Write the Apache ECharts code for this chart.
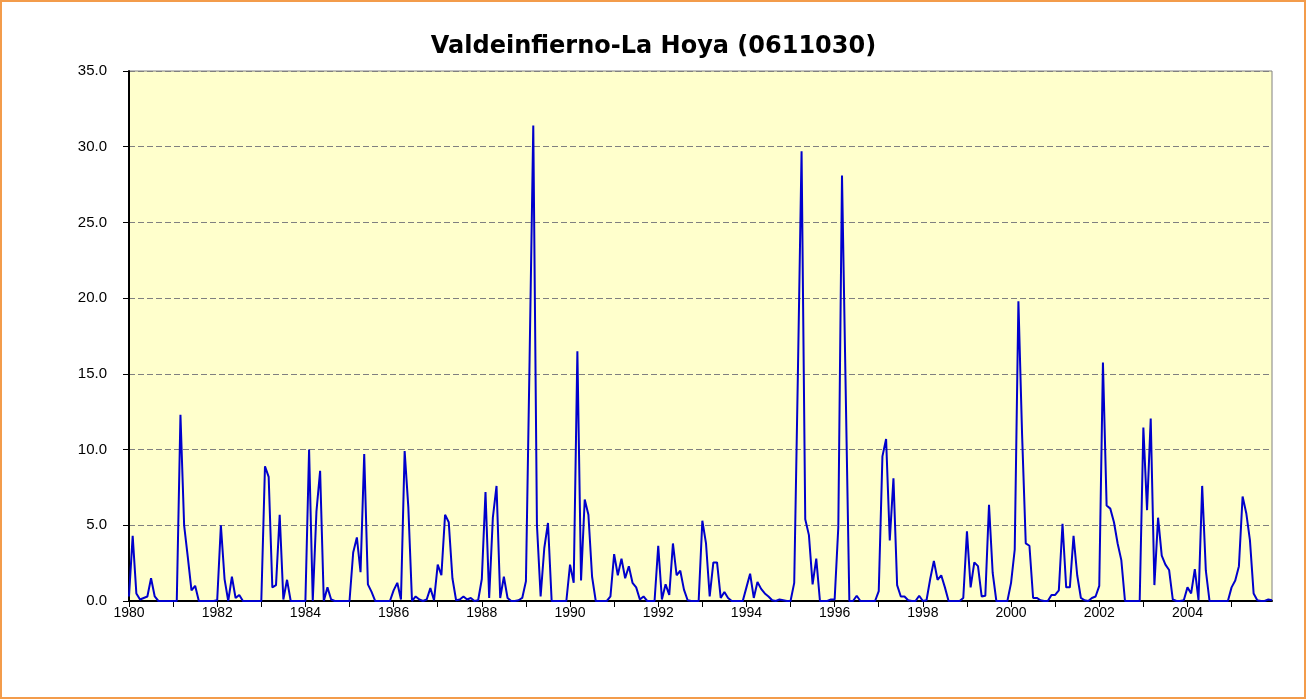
<!DOCTYPE html>
<html>
<head>
<meta charset="utf-8">
<script src="https://cdn.jsdelivr.net/npm/echarts@6/dist/echarts.min.js"></script>
<style>
html,body{margin:0;padding:0;background:#fff;}
#chart{width:1307px;height:700px;}
</style>
</head>
<body>
<div id="chart"></div>
<script>
const title = 'Valdeinfierno-La Hoya (0611030)';
const years = [1980,1981,1982,1983,1984,1985,1986,1987,1988,1989,1990,1991,1992,1993,1994,1995,1996,1997,1998,1999,2000,2001,2002,2003,2004,2005];
const yTicks = [0,5,10,15,20,25,30,35];
// monthly values, one row per year (Jan..Dec)
const values = [
  0.3, 4.3, 0.5, 0.1, 0.2, 0.3, 1.5, 0.3, 0, 0, 0, 0,
  0, 0, 12.3, 5.0, 2.9, 0.7, 1.0, 0, 0, 0, 0, 0,
  0.05, 5.0, 1.45, 0, 1.6, 0.2, 0.4, 0, 0, 0, 0, 0,
  0, 8.9, 8.2, 0.9, 1.05, 5.7, 0.1, 1.4, 0, 0, 0, 0,
  0, 10.0, 0, 5.9, 8.6, 0, 0.9, 0.1, 0, 0, 0, 0,
  0, 3.2, 4.2, 1.9, 9.7, 1.1, 0.6, 0, 0, 0, 0, 0,
  0.7, 1.2, 0.1, 9.9, 6.2, 0, 0.3, 0.1, 0, 0.1, 0.85, 0.05,
  2.4, 1.7, 5.7, 5.2, 1.5, 0.05, 0.1, 0.3, 0.1, 0.2, 0, 0.05,
  1.45, 7.2, 0.2, 5.5, 7.6, 0.2, 1.6, 0.2, 0, 0, 0.05, 0.2,
  1.3, 16.0, 31.4, 5.0, 0.3, 3.5, 5.15, 0, 0, 0, 0, 0,
  2.4, 1.2, 16.5, 1.35, 6.7, 5.7, 1.6, 0, 0, 0, 0, 0.3,
  3.1, 1.7, 2.8, 1.5, 2.3, 1.2, 0.9, 0.1, 0.3, 0, 0, 0,
  3.65, 0.1, 1.1, 0.4, 3.8, 1.7, 2.0, 0.75, 0.05, 0, 0, 0,
  5.3, 3.8, 0.3, 2.55, 2.55, 0.2, 0.6, 0.2, 0, 0, 0, 0,
  0.9, 1.8, 0.2, 1.25, 0.8, 0.5, 0.3, 0.05, 0, 0.1, 0.05, 0,
  0, 1.2, 15.0, 29.7, 5.4, 4.35, 1.1, 2.8, 0, 0, 0, 0.1,
  0.1, 4.9, 28.1, 14.0, 0, 0, 0.35, 0, 0, 0, 0, 0,
  0.65, 9.55, 10.7, 4.0, 8.1, 1.05, 0.3, 0.3, 0.05, 0, 0, 0.35,
  0, 0.05, 1.45, 2.65, 1.4, 1.7, 0.9, 0, 0, 0, 0, 0.2,
  4.6, 0.9, 2.55, 2.3, 0.3, 0.35, 6.35, 1.85, 0, 0, 0, 0,
  1.2, 3.4, 19.8, 11.0, 3.8, 3.65, 0.2, 0.2, 0.05, 0, 0, 0.4,
  0.4, 0.7, 5.1, 0.9, 0.9, 4.3, 1.7, 0.2, 0.05, 0, 0.2, 0.3,
  1.0, 15.75, 6.3, 6.1, 5.2, 3.8, 2.7, 0, 0, 0, 0, 0,
  11.45, 6.0, 12.05, 1.05, 5.5, 3.0, 2.4, 2.05, 0.1, 0, 0, 0.05,
  0.9, 0.5, 2.1, 0.05, 7.6, 2.0, 0, 0, 0, 0, 0, 0,
  0.9, 1.35, 2.3, 6.9, 5.8, 4.0, 0.5, 0.05, 0, 0, 0.1, 0.05
];
const months = ['01','02','03','04','05','06','07','08','09','10','11','12'];
const categories = [];
years.forEach(y => months.forEach(m => categories.push(y + '-' + m)));

const chart = echarts.init(document.getElementById('chart'), null, {renderer: 'canvas'});
chart.setOption({
  animation: false,
  backgroundColor: '#ffffff',
  graphic: [{
    type: 'rect', shape: {x: 1, y: 1, width: 1304, height: 697},
    style: {fill: 'none', stroke: '#F39C4B', lineWidth: 2}, silent: true, z: 100
  }],
  title: {
    text: title, left: 'center', top: 30,
    textStyle: {fontFamily: 'DejaVu Sans', fontWeight: 'bold', fontSize: 24, color: '#000'}
  },
  grid: {
    left: 129, right: 35, top: 71, bottom: 99,
    show: true, backgroundColor: '#FFFFCC', borderColor: '#808080', borderWidth: 1
  },
  xAxis: {
    type: 'category', data: categories, boundaryGap: false,
    axisLine: {lineStyle: {color: '#000', width: 2}},
    axisTick: {show: true, interval: 11, length: 6, lineStyle: {color: '#000', width: 1}},
    axisLabel: {
      interval: 23, margin: 5, fontFamily: 'Liberation Sans', fontSize: 14, color: '#000',
      formatter: v => v.slice(0, 4)
    },
    splitLine: {show: false}
  },
  yAxis: {
    type: 'value', min: yTicks[0], max: yTicks[yTicks.length - 1], interval: 5,
    axisLine: {show: true, lineStyle: {color: '#000', width: 2}},
    axisTick: {show: true, length: 6, lineStyle: {color: '#000'}},
    axisLabel: {fontFamily: 'Liberation Sans', fontSize: 15, color: '#000', margin: 22,
      formatter: v => v.toFixed(1)},
    splitLine: {show: true, lineStyle: {color: '#808080', type: [6, 3], width: 1}}
  },
  series: [{
    type: 'line', data: values, showSymbol: false, symbol: 'none',
    lineStyle: {color: '#0000CC', width: 2}, itemStyle: {color: '#0000CC'}
  }]
});
</script>
</body>
</html>
